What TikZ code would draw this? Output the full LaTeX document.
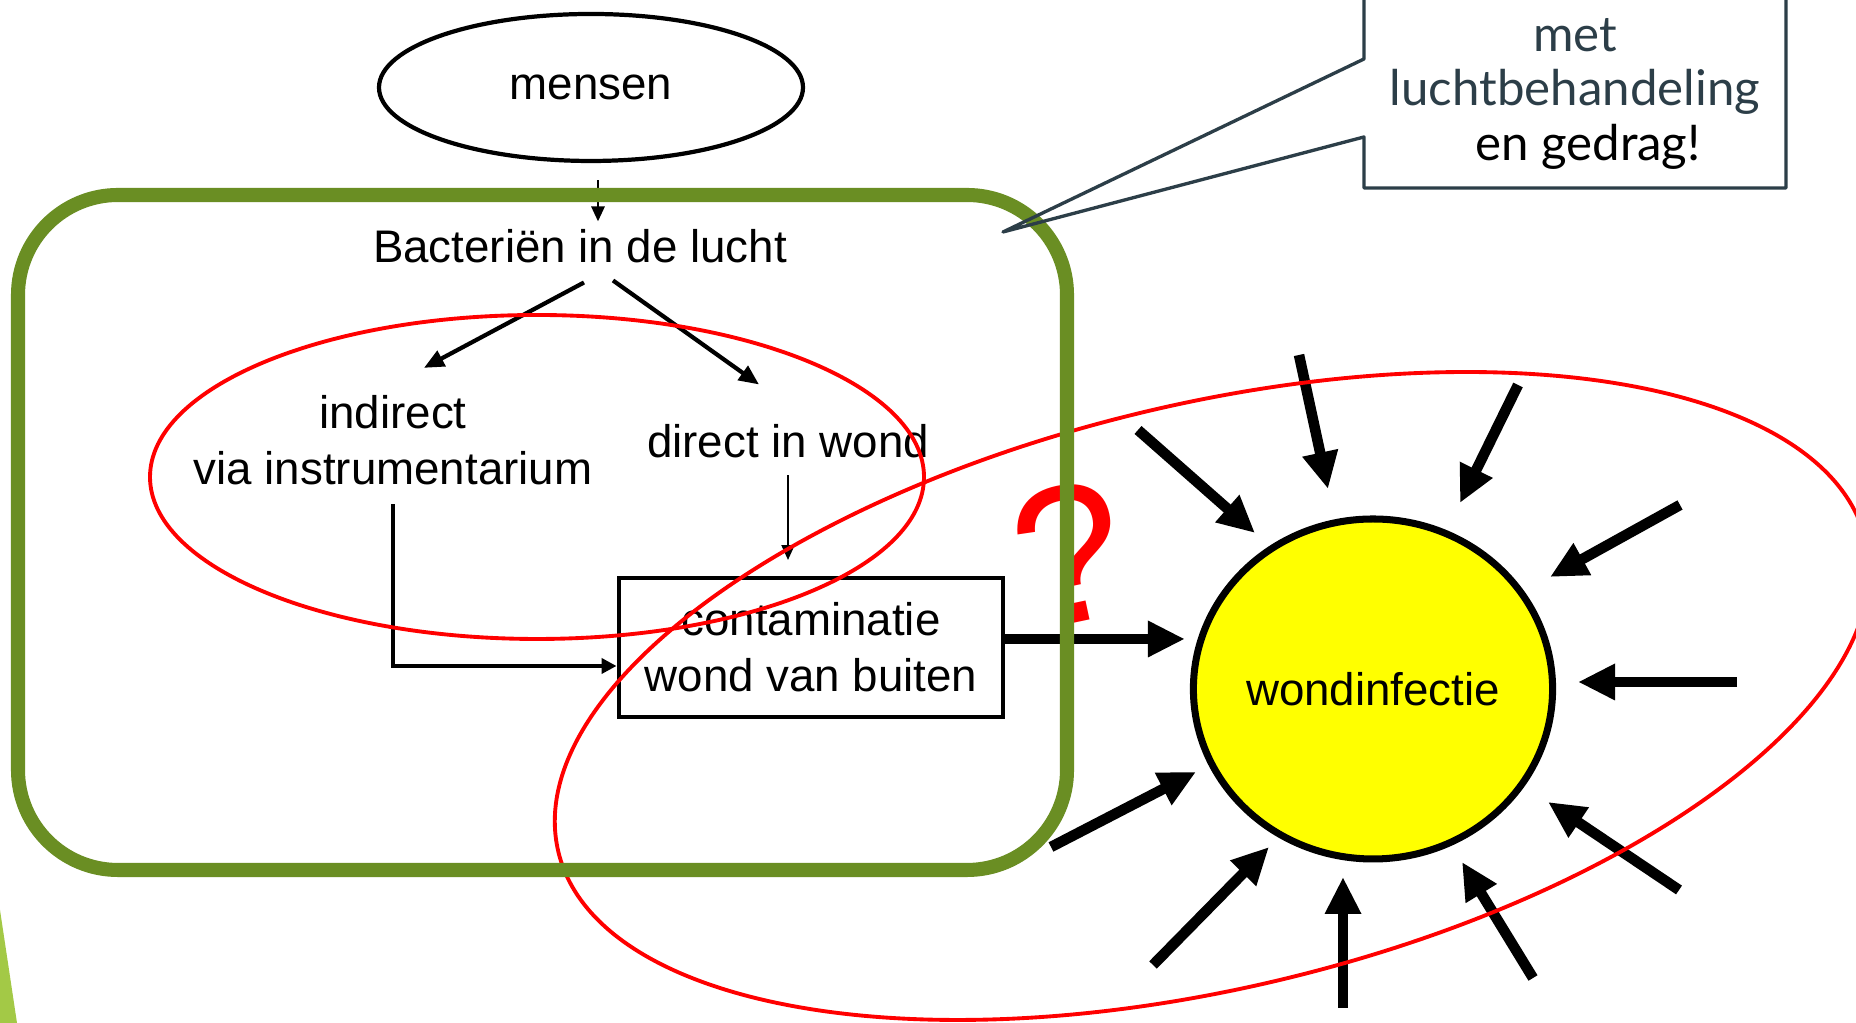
\documentclass[tikz,border=0pt]{standalone}
\usepackage{fontspec}
\setmainfont{Liberation Sans}
\newfontfamily\callfont{Lato}
\usetikzlibrary{arrows.meta,shapes.geometric,positioning,calc}

\definecolor{olijf}{RGB}{106,142,35}
\definecolor{lichtgroen}{RGB}{163,201,70}
\definecolor{leisteen}{RGB}{44,62,72}
\definecolor{geel}{RGB}{255,255,0}

\tikzset{
  lbl/.style={font=\fontsize{13}{16}\selectfont, align=center, inner sep=2pt},
  oval/.style={ellipse, draw, line width=1.2pt, minimum width=4.24cm, minimum height=1.47cm, inner sep=0pt},
  kader/.style={draw, line width=1.4pt, minimum width=3.84cm, minimum height=1.39cm, inner sep=0pt},
  zon/.style={ellipse, draw, fill=geel, line width=2pt, minimum width=3.50cm, minimum height=3.40cm, inner sep=0pt},
  dun/.style={line width=0.8pt, -{Triangle[length=0.15cm,width=0.13cm]}},
  pijl/.style={line width=1.2pt, -{Triangle[length=0.2cm,width=0.17cm]}},
  dik/.style={line width=3pt, -{Triangle[length=0.37cm,width=0.34cm]}},
  rood/.style={draw=red, line width=1.1pt},
}

\begin{document}
\begin{tikzpicture}
    % Фон и рамка
    \fill[white] (0,0) rectangle (18.56,10.23);
    \useasboundingbox (0,0) rectangle (18.56,10.23);
    \fill[lichtgroen] (0,1.13) -- (0.17,0) -- (0,0) -- cycle;

    % Узлы схемы
    \node[lbl, oval] (mensen) at (5.91,9.355) {mensen};
    \node[lbl] (bact) at (5.80,7.77) {Bacteriën in de lucht};
    \node[lbl] (ind) at (3.93,5.83) {indirect\\via instrumentarium};
    \node[lbl] (dir) at (7.88,5.82) {direct in wond};
    \node[lbl, kader] (cont) at (8.11,3.755) {contaminatie\\wond van buiten};
    \node[lbl, zon] (sun) at (13.73,3.34) {wondinfectie};

    % Стрелки
    \coordinate (bron) at ([xshift=0.07cm]mensen.south);
    \draw[dun, shorten <=0.17cm] (bron) -- (bron |- bact.north);
    \draw[pijl] ([xshift=0.04cm,yshift=-0.12cm]bact.south) -- ([xshift=0.31cm,yshift=0.195cm]ind.north);
    \draw[pijl] ([xshift=0.33cm,yshift=-0.10cm]bact.south) -- ([xshift=-0.29cm,yshift=0.32cm]dir.north);
    \draw[dun, line width=0.6pt, shorten <=0.10cm, shorten >=0.155cm] (dir.south) -- (dir.south |- cont.north);
    \draw[pijl, -{Triangle[length=0.15cm,width=0.15cm]}, shorten <=0.115cm] (ind.south) |- ([yshift=-0.185cm]cont.west);
    \coordinate (uit) at ([yshift=0.085cm]cont.east);
    \draw[dik, shorten >=0.05cm] (uit) -- (uit -| sun.west);

    % Стрелки вокруг раны
    \foreach \xa/\ya/\xb/\yb in {11.38/5.93/12.55/4.90, 12.99/6.68/13.28/5.34,
        15.18/6.38/14.60/5.20, 16.80/5.18/15.50/4.46, 17.37/3.41/15.78/3.41,
        16.79/1.33/15.48/2.21, 15.33/0.45/14.62/1.61, 13.43/0.15/13.43/1.46,
        11.53/0.58/12.69/1.76, 10.51/1.76/11.96/2.51}
        \draw[dik] (\xa,\ya) -- (\xb,\yb);

    % Вопрос
    \node[text=red, font=\fontsize{56}{56}\selectfont, rotate=12, inner sep=0pt] (vraag) at (10.70,4.69) {?};

    % Красные эллипсы
    \draw[rood] (5.37,5.46) ellipse [x radius=3.87, y radius=1.62];
    \draw[rood, rotate around={13.4:(12.12,3.27)}] (12.12,3.27) ellipse [x radius=6.72, y radius=2.92];

    % Зелёная рамка
    \draw[olijf, line width=4pt, rounded corners=1.0cm] (0.18,1.53) rectangle (10.67,8.28);

    % Выноска
    \coordinate (punt) at (10.03,7.91);
    \draw[leisteen, line width=0.95pt, line join=round] (13.64,10.5) -- (13.64,9.64) -- (punt)
        -- (13.64,8.86) -- (13.64,8.35) -- (17.86,8.35) -- (17.86,10.5);
    \node[font=\callfont\fontsize{14}{15.4}\selectfont, text=leisteen, align=center] (tekst) at (15.75,9.29)
        {met\\luchtbehandeling\\\hspace*{0.26cm}\textcolor{black}{en gedrag!}};
\end{tikzpicture}
\end{document}
